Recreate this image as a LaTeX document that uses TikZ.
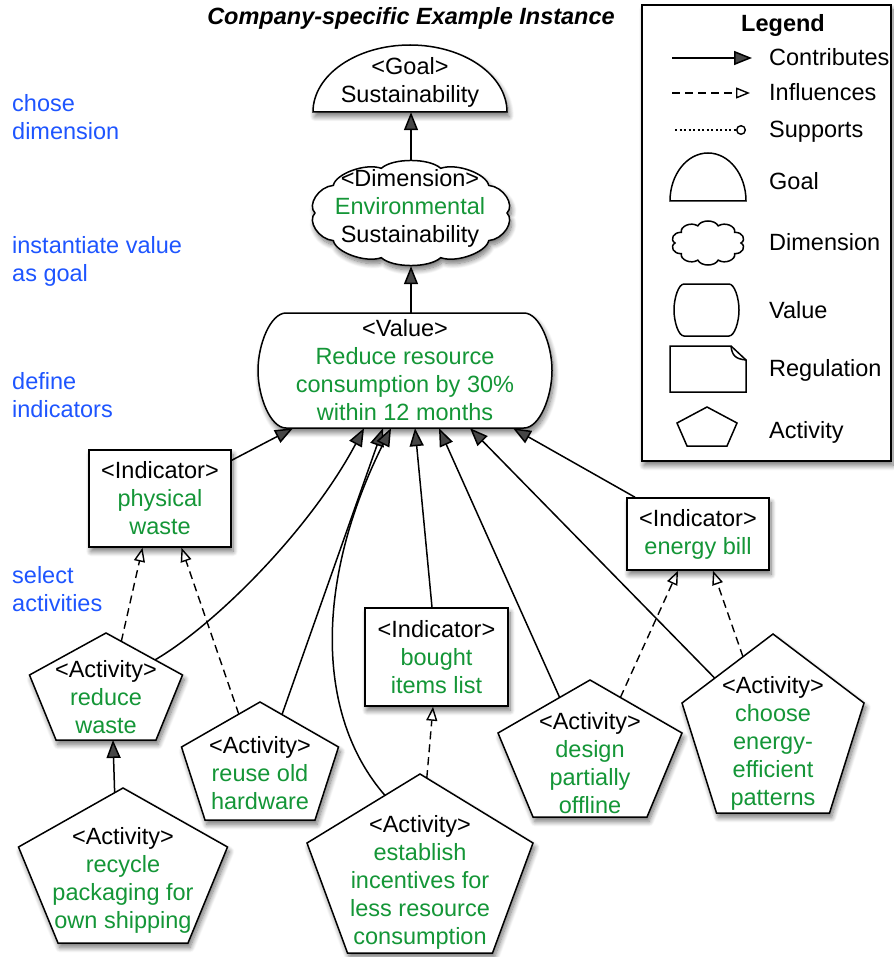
\documentclass[tikz,border=0pt]{standalone}
\usepackage{fontspec}
\setmainfont{Liberation Sans}
\usetikzlibrary{arrows.meta,calc,shadows.blur}

\definecolor{stepblue}{RGB}{30,85,255}
\definecolor{labelgreen}{RGB}{20,150,55}

\tikzset{
  shapeline/.style={draw=black, line width=1.5pt, fill=white, line join=miter},
  shadowed/.style={blur shadow={shadow xshift=2pt, shadow yshift=-4.5pt,
      shadow blur radius=5pt, shadow blur steps=10, shadow opacity=55}},
  txt/.style={align=center, inner sep=0pt},
  steplabel/.style={anchor=west, align=left, inner sep=0pt, text=stepblue},
  legendlabel/.style={anchor=base west, inner sep=0pt},
  contributes/.style={line width=1.5pt, -{Triangle[length=18pt,width=14pt]}},
  influences/.style={line width=1.4pt, dash pattern=on 8pt off 5pt,
      -{Triangle[open,length=14pt,width=11pt]}},
  supports/.style={line width=1.4pt, dash pattern=on 2pt off 2.5pt,
      -{Circle[open,length=10pt]}},
  indicator/.style={shapeline, shadowed, rectangle, align=center,
      inner sep=0pt, minimum width=142pt, text=labelgreen},
}

% barrel outline of a value: x0, y0, x1, y1, corner depth
\newcommand\valueoutline[6][]{%
  \path[shapeline,#1] ({#2+#6},#3) -- ({#4-#6},#3)
    .. controls ({#4-0.45*#6},#3) and (#4,{#3+0.27*(#5-#3)}) .. (#4,{0.5*(#3+#5)})
    .. controls (#4,{#5-0.27*(#5-#3)}) and ({#4-0.45*#6},#5) .. ({#4-#6},#5)
    -- ({#2+#6},#5)
    .. controls ({#2+0.45*#6},#5) and (#2,{#5-0.27*(#5-#3)}) .. (#2,{0.5*(#3+#5)})
    .. controls (#2,{#3+0.27*(#5-#3)}) and ({#2+0.45*#6},#3) .. ({#2+#6},#3) -- cycle;}

% cloud of ten puffs: centre x, centre y, x radius, y radius (of the dips), puff depth
\newcommand\cloudoutline[6][]{%
  \begin{scope}[shift={(#2,#3)}]
  \path[shapeline,#1] (0:#4 and #5)
    \foreach \a in {0,36,...,324} {
      .. controls ({\a+8}:{#4+#6} and {#5+#6}) and ({\a+28}:{#4+#6} and {#5+#6})
      .. ({\a+36}:#4 and #5)} -- cycle;
  \end{scope}}

% pentagon: name, centre x, top y, shoulder y, bottom y, half width, bottom half width
\newcommand\pentoutline[8][]{%
  \path[shapeline,#1] (#3,#4) coordinate (#2-t) -- ({#3+#7},#5) coordinate (#2-r)
    -- ({#3+#8},#6) coordinate (#2-br) -- ({#3-#8},#6) coordinate (#2-bl)
    -- ({#3-#7},#5) coordinate (#2-l) -- cycle;}

% activity: pentagon plus its label (last two: text centre y, text)
\newcommand\activity[9]{%
  \pentoutline[shadowed]{#1}{#2}{#3}{#4}{#5}{#6}{#7}
  \node[txt, text=labelgreen] (#1) at (#2,#8) {\textcolor{black}{<Activity>}\\#9};}

\begin{document}
\begin{tikzpicture}[x=1pt, y=-1pt, font=\fontsize{23.5}{28}\selectfont]
\useasboundingbox (0,0) rectangle (893,957);

% heading
\node[font=\fontsize{23.5}{28}\selectfont\bfseries\itshape] (title) at (411,18)
  {Company-specific Example Instance};

% method steps
\node[steplabel] (step1) at (12,117) {chose\\dimension};
\node[steplabel] (step2) at (12,261.5) {instantiate value\\as goal};
\node[steplabel] (step3) at (12,395) {define\\indicators};
\node[steplabel] (step4) at (12,589) {select\\activities};

% goal
\path[shapeline, shadowed] (313,112) arc[start angle=180, end angle=360, x radius=97, y radius=67] -- cycle;
\node[inner sep=0pt, minimum width=194pt, minimum height=67pt] (goal) at (410,78.5) {};
\node[txt] (goal-label) at (410,82) {<Goal>\\Sustainability};

% dimension
\cloudoutline[shadowed]{411}{213}{96}{47}{9}
\node[inner sep=0pt, minimum width=198pt, minimum height=106pt] (dim) at (411,213) {};
\node[txt] (dim-label) at (410,208.5)
  {<Dimension>\\\textcolor{labelgreen}{Environmental}\\Sustainability};

% value
\valueoutline[shadowed]{258}{313}{552}{428}{28}
\node[txt, text=labelgreen, minimum width=294pt, minimum height=115pt] (val) at (405,370.5)
  {\textcolor{black}{<Value>}\\Reduce resource\\consumption by 30\%\\within 12 months};

% indicators
\node[indicator, minimum height=97pt] (phys) at (160,498.5)
  {\textcolor{black}{<Indicator>}\\physical\\waste};
\node[indicator, minimum height=72pt] (eb) at (698,534)
  {\textcolor{black}{<Indicator>}\\energy bill};
\node[indicator, minimum height=98pt, minimum width=143pt] (bil) at (436.5,657)
  {\textcolor{black}{<Indicator>}\\bought\\items list};

% activities
\activity{rw}{106}{633}{675}{740}{76.5}{50}{697}{reduce\\waste}
\activity{ro}{260}{702}{747}{820}{78.5}{55}{773}{reuse old\\hardware}
\activity{rp}{123}{788}{847}{943}{104.5}{65}{880}{recycle\\packaging for\\own shipping}
\activity{ei}{420}{774}{843}{953}{113}{72.5}{882}{establish\\incentives for\\less resource\\consumption}
\activity{dp}{590}{680}{733}{817}{92}{57}{763}{design\\partially\\offline}
\activity{ce}{773}{634}{703}{813}{91}{56.5}{743}{choose\\energy-\\efficient\\patterns}

% contributions
\draw[contributes] (dim.north) -- (dim.north |- goal.south);
\draw[contributes] (val.north -| dim.south) -- (dim.south);
\draw[contributes] ([yshift=-11pt]phys.north east) -- ([xshift=-112pt]val.south);
\draw[contributes] ($(rw-t)!0.64!(rw-r)$) .. controls (215,625) and (310,530) .. ([xshift=-41pt]val.south);
\draw[contributes] ($(ro-t)!0.28!(ro-r)$) -- ([xshift=-22pt]val.south);
\draw[contributes] ($(ei-t)!0.31!(ei-l)$) .. controls (315,715) and (315,580) .. ([xshift=-14pt]val.south);
\draw[contributes] ([xshift=-4.5pt]bil.north) -- ([xshift=10pt]val.south);
\draw[contributes] ($(dp-t)!0.33!(dp-l)$) -- ([xshift=34pt]val.south);
\draw[contributes] ($(ce-t)!0.64!(ce-l)$) -- ([xshift=65pt]val.south);
\draw[contributes] ([xshift=-63pt]eb.north) -- ([xshift=108pt]val.south);
\draw[contributes] ($(rp-t)!0.08!(rp-l)$) -- ($(rw-bl)!0.57!(rw-br)$);

% influences
\draw[influences] ($(rw-t)!0.2!(rw-r)$) -- ([xshift=-17.5pt]phys.south);
\draw[influences] ($(ro-t)!0.27!(ro-l)$) -- ([xshift=21.5pt]phys.south);
\draw[influences] ($(ei-t)!0.06!(ei-r)$) -- ([xshift=-3.5pt]bil.south);
\draw[influences] ($(dp-t)!0.33!(dp-r)$) -- ([xshift=-20pt]eb.south);
\draw[influences] ($(ce-t)!0.33!(ce-l)$) -- ([xshift=15pt]eb.south);

% legend
\node[draw, line width=1.5pt, fill=white, shadowed, minimum width=249pt,
  minimum height=456pt, inner sep=0pt] (legend) at (766.5,233) {};
\node[font=\fontsize{23.5}{28}\selectfont\bfseries] (legend-title) at (783,25) {Legend};

\coordinate (lg-c1) at (672,58);  \coordinate (lg-c2) at (752,58);
\coordinate (lg-i1) at (672,93);  \coordinate (lg-i2) at (750,93);
\coordinate (lg-s1) at (675,130); \coordinate (lg-s2) at (746,130);
\draw[contributes] (lg-c1) -- (lg-c2);
\draw[influences] (lg-i1) -- (lg-i2);
\draw[supports] (lg-s1) -- (lg-s2);

\path[shapeline] (670,201) arc[start angle=180, end angle=360, x radius=38, y radius=48] -- cycle;
\cloudoutline{708}{243}{33}{18}{6}
\valueoutline{674}{284}{739}{336}{10}
\path[shapeline] (670,346) -- (731,346) -- (746,360) -- (746,392) -- (670,392) -- cycle;
\draw[line width=1.5pt] (731,346) .. controls (732,356) and (736,359) .. (746,360);
\pentoutline{lg-act}{707}{407}{423}{446}{30}{20}

\node[legendlabel] (lg-contrib) at (769,66) {Contributes};
\node[legendlabel] (lg-influ) at (769,101) {Influences};
\node[legendlabel] (lg-supp) at (769,138) {Supports};
\node[legendlabel] (lg-goal) at (769,190) {Goal};
\node[legendlabel] (lg-dimension) at (769,251) {Dimension};
\node[legendlabel] (lg-value) at (769,318) {Value};
\node[legendlabel] (lg-reg) at (769,376) {Regulation};
\node[legendlabel] (lg-activity) at (769,438) {Activity};
\end{tikzpicture}
\end{document}
